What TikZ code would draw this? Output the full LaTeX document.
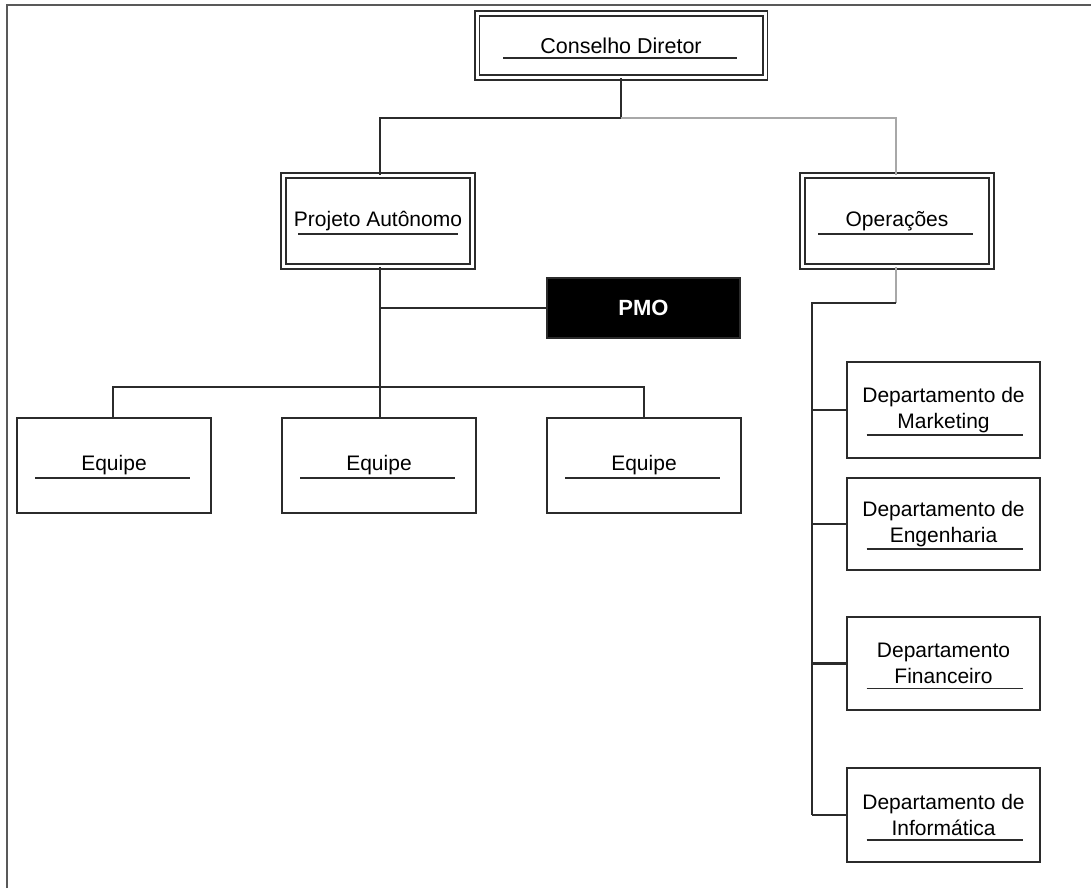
\documentclass[tikz,border=0pt]{standalone}
\usepackage{fontspec}
\setmainfont{Liberation Sans}
\usetikzlibrary{calc}
\definecolor{ink}{HTML}{2B2B2B}
\definecolor{lightink}{HTML}{A8A8A8}
\tikzset{
  box/.style={draw=ink, line width=2.2pt, fill=white, inner sep=0pt,
    minimum width=193pt, align=center, font=\fontsize{21}{26}\selectfont},
  dbox/.style={box, double=white, double distance=3pt, line width=1.9pt},
  link/.style={draw=ink, line width=2.4pt},
  softlink/.style={draw=lightink, line width=2.4pt},
  uline/.style={draw=ink, line width=1.8pt},
  frame/.style={draw=black!65, line width=2.2pt}
}
\begin{document}
\begin{tikzpicture}[x=1pt,y=-1pt]
\useasboundingbox (0,0) rectangle (1091,888);

% page frame (top and left edges)
\draw[frame] (7,888) -- (7,5) -- (1091,5);

% boxes
\node[dbox, minimum width=288pt, minimum height=64pt, font=\fontsize{21.5}{26}\selectfont] (cd) at (621,45.5) {Conselho Diretor};
\node[dbox, minimum width=189pt, minimum height=91pt] (pa) at (378,221) {Projeto Autônomo};
\node[dbox, minimum width=189pt, minimum height=91pt] (op) at (897,221) {Operações};
\node[box, fill=black, minimum height=60pt, text=white, font=\fontsize{22}{26}\selectfont\bfseries] (pmo) at (643.5,308) {PMO};
\node[box, minimum width=194pt, minimum height=95pt] (eq1) at (114,465.5) {Equipe};
\node[box, minimum width=194pt, minimum height=95pt] (eq2) at (379,465.5) {Equipe};
\node[box, minimum width=194pt, minimum height=95pt] (eq3) at (644,465.5) {Equipe};
\node[box, minimum height=96pt] (dm) at (943.5,410) {Departamento de\\Marketing};
\node[box, minimum height=92pt] (de) at (943.5,524) {Departamento de\\Engenharia};
\node[box, minimum height=93pt] (df) at (943.5,663.5) {Departamento\\Financeiro};
\node[box, minimum height=94pt] (di) at (943.5,815) {Departamento de\\Informática};

% underlines beneath the labels
\draw[uline] ($(cd.center)+(-118,12.5)$) -- ++(234,0);
\draw[uline] ($(pa.center)+(-80,13)$) -- ++(160,0);
\draw[uline] ($(op.center)+(-79,13)$) -- ++(155,0);
\foreach \n in {eq1,eq2,eq3}
  \draw[uline] ($(\n.center)+(-79,12.5)$) -- ++(155,0);
\foreach \n in {dm,de,df,di}
  \draw[uline] ($(\n.center)+(-77,25)$) -- ++(156,0);

% junction points
\coordinate (top) at (621,118);
\coordinate (mid) at (380,387);
\coordinate (opdrop) at (896,303);
\coordinate (spine) at (812,303);
\coordinate (spineend) at (812,815);

% connectors
\draw[link] (cd.south) -- (top);
\draw[link] (top) -| ([xshift=2pt]pa.north);
\draw[softlink] (top) -| ([xshift=-1pt]op.north);
\draw[link] ([xshift=2pt]pa.south) -- (mid);
\draw[link] ([xshift=2pt]pa.south |- pmo.west) -- (pmo.west);
\draw[link] (mid) -| ([xshift=-1pt]eq1.north);
\draw[link] (mid) -| (eq3.north);
\draw[link] (mid) -- ([xshift=1pt]eq2.north);
\draw[softlink] ([xshift=-1pt]op.south) -- (opdrop);
\draw[link] (opdrop) -- (spine) -- (spineend);
\foreach \n in {dm,de,df}
  \draw[link] (spine |- \n.west) -- (\n.west);
\draw[link] (spineend) -- (di.west);
\end{tikzpicture}
\end{document}
